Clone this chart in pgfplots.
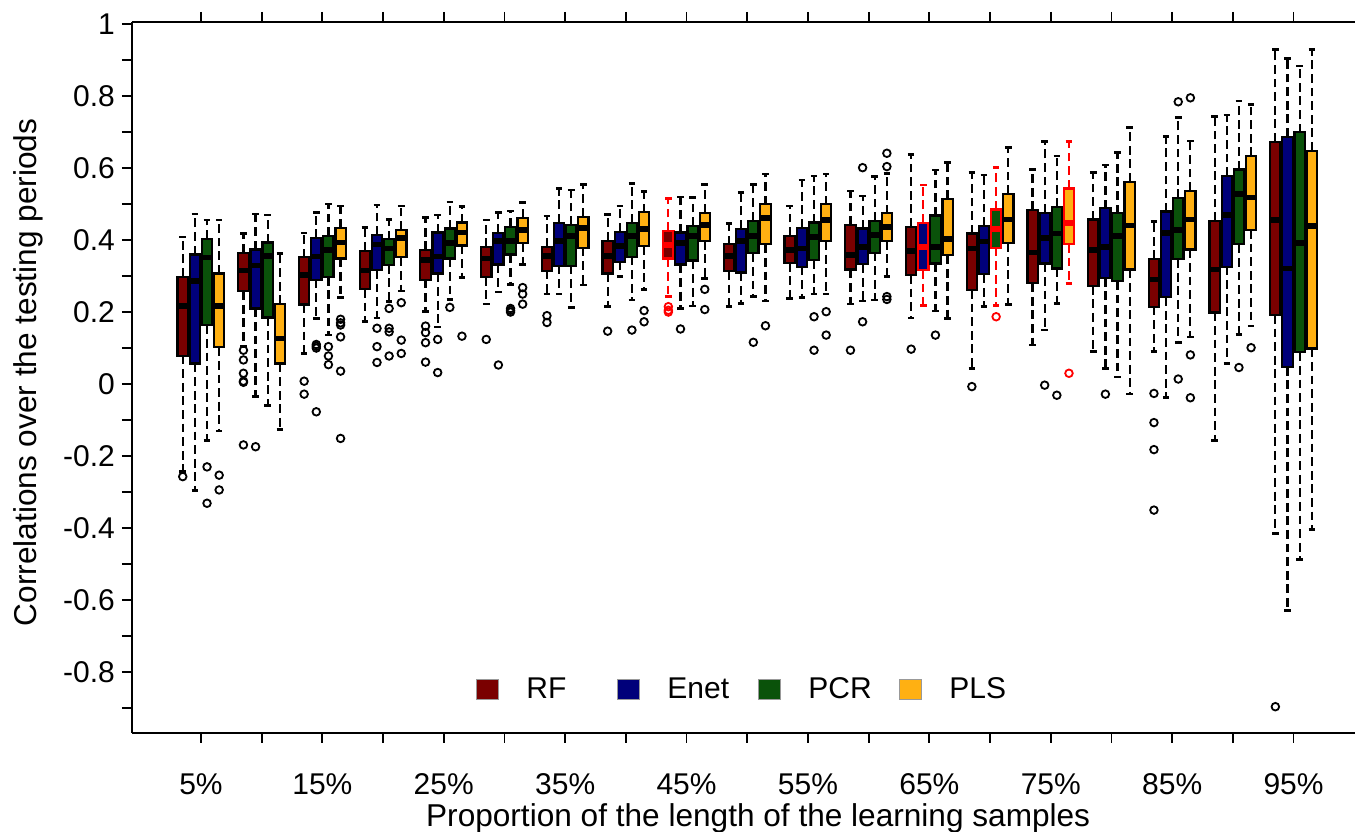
\documentclass[border=0pt]{standalone}
\usepackage{fontspec}
\setmainfont{Liberation Sans}
\usepackage{pgfplots}
\pgfplotsset{compat=1.18}

\definecolor{RFc}{HTML}{7A0000}
\definecolor{ENc}{HTML}{00007A}
\definecolor{PCc}{HTML}{0A520A}
\definecolor{PLc}{HTML}{FFB012}

\pgfplotsset{
  whisk/.style={forget plot, line width=1.1pt, dash pattern=on 4.4pt off 2.4pt},
  cap/.style={forget plot, line width=1.3pt, solid},
}

% fill, line colour, position, lower whisker, lower quartile, median, upper quartile, upper whisker, outliers
\newcommand{\B}[9]{%
  \pgfmathsetmacro\xa{#3-0.425}\pgfmathsetmacro\xb{#3+0.425}%
  \pgfmathsetmacro\ca{#3-0.27}\pgfmathsetmacro\cb{#3+0.27}%
  \addplot[whisk, draw=#2] coordinates {(#3,#5) (#3,#4)};
  \addplot[whisk, draw=#2] coordinates {(#3,#7) (#3,#8)};
  \addplot[cap, draw=#2] coordinates {(\ca,#4) (\cb,#4)};
  \addplot[cap, draw=#2] coordinates {(\ca,#8) (\cb,#8)};
  \addplot[forget plot, draw=#2, fill=#1, line width=1.1pt] coordinates {(\xa,#5) (\xb,#5) (\xb,#7) (\xa,#7)} -- cycle;
  \addplot[forget plot, draw=#2, line width=2.8pt] coordinates {(\xa,#6) (\xb,#6)};
  \ifx\relax#9\relax\else
  \addplot[forget plot, only marks, mark=o, mark size=1.9pt, mark options={solid, draw=#2, line width=0.9pt}] coordinates {#9};
  \fi}

\newcommand{\fs}{\fontsize{15}{17}\selectfont}
\newcommand{\fl}{\fontsize{15.8}{18}\selectfont}

\begin{document}
\begin{tikzpicture}
\begin{axis}[
  name=ax, scale only axis, width=611.5pt, height=355.5pt,
  xmin=-0.68, xmax=100.06, ymin=-0.969, ymax=1.0056,
  axis y line*=left, axis line style={-, line width=0.8pt, black},
  tick align=outside, major tick length=5pt, minor tick length=5pt,
  tick style={black, line width=0.9pt},
  xtick={5,10,...,95}, xtick pos=both, xticklabel pos=lower,
  xticklabels={5\%,,15\%,,25\%,,35\%,,45\%,,55\%,,65\%,,75\%,,85\%,,95\%},
  ytick={-0.8,-0.6,-0.4,-0.2,0,0.2,0.4,0.6,0.8,1},
  yticklabels={-0.8,-0.6,-0.4,-0.2,0,0.2,0.4,0.6,0.8,1},
  minor ytick={-0.9,-0.7,-0.5,-0.3,-0.1,0.1,0.3,0.5,0.7,0.9},
  tick label style={font=\fs},
  xticklabel style={anchor=base, yshift=-26pt},
  label style={font=\fl},
  xlabel={Proportion of the length of the learning samples},
  ylabel={Correlations over the testing periods},
  xlabel style={at={(axis description cs:0.512,0)}, anchor=base, yshift=-47pt},
  ylabel style={at={(axis description cs:-0.085,0.507)}, anchor=center},
  legend columns=4, legend cell align=left,
  legend image code/.code={\draw[#1, draw=black!40, line width=0.5pt] (0pt,-5pt) rectangle (11pt,5pt);},
  legend style={at={(0.2813,0.0605)}, anchor=west, draw=none, fill=none, inner sep=0pt,
    nodes={inner sep=0pt}, font=\fs,
    /tikz/every odd column/.append style={column sep=13.5pt},
    /tikz/every even column/.append style={column sep=15.5pt}},
]
\addlegendimage{fill=RFc}\addlegendentry{\makebox[30pt][l]{RF}}
\addlegendimage{fill=ENc}\addlegendentry{\makebox[30pt][l]{Enet}}
\addlegendimage{fill=PCc}\addlegendentry{\makebox[30pt][l]{PCR}}
\addlegendimage{fill=PLc}\addlegendentry{\makebox[30pt][l]{PLS}}

% 5%
\B{RFc}{black}{3.5}{-0.243}{0.079}{0.217}{0.298}{0.409}{(3.5,-0.257)}
\B{ENc}{black}{4.5}{-0.296}{0.057}{0.287}{0.360}{0.472}{}
\B{PCc}{black}{5.5}{-0.156}{0.163}{0.352}{0.403}{0.456}{(5.5,-0.23) (5.5,-0.331)}
\B{PLc}{black}{6.5}{-0.130}{0.102}{0.217}{0.307}{0.456}{(6.5,-0.253) (6.5,-0.294)}
% 10%
\B{RFc}{black}{8.5}{0.105}{0.258}{0.315}{0.365}{0.419}{(8.5,0.094) (8.5,0.067) (8.5,0.030) (8.5,0.008) (8.5,0.005) (8.5,-0.169)}
\B{ENc}{black}{9.5}{-0.035}{0.210}{0.329}{0.374}{0.472}{(9.5,-0.174)}
\B{PCc}{black}{10.5}{-0.060}{0.185}{0.356}{0.393}{0.469}{}
\B{PLc}{black}{11.5}{-0.126}{0.057}{0.127}{0.222}{0.363}{}
% 15%
\B{RFc}{black}{13.5}{0.085}{0.221}{0.303}{0.352}{0.420}{(13.5,0.008) (13.5,-0.028)}
\B{ENc}{black}{14.5}{0.182}{0.290}{0.354}{0.405}{0.476}{(14.5,0.110) (14.5,0.105) (14.5,0.100) (14.5,-0.077)}
\B{PCc}{black}{15.5}{0.136}{0.298}{0.372}{0.411}{0.500}{(15.5,0.104) (15.5,0.078) (15.5,0.054)}
\B{PLc}{black}{16.5}{0.240}{0.349}{0.393}{0.434}{0.494}{(16.5,0.180) (16.5,0.170) (16.5,0.164) (16.5,0.131) (16.5,0.036) (16.5,-0.151)}
% 20%
\B{RFc}{black}{18.5}{0.173}{0.264}{0.315}{0.370}{0.435}{}
\B{ENc}{black}{19.5}{0.184}{0.317}{0.388}{0.414}{0.497}{(19.5,0.155) (19.5,0.104) (19.5,0.060)}
\B{PCc}{black}{20.5}{0.230}{0.331}{0.377}{0.402}{0.457}{(20.5,0.210) (20.5,0.155) (20.5,0.145) (20.5,0.078)}
\B{PLc}{black}{21.5}{0.258}{0.352}{0.405}{0.428}{0.494}{(21.5,0.226) (21.5,0.122) (21.5,0.085)}
% 25%
\B{RFc}{black}{23.5}{0.201}{0.290}{0.344}{0.372}{0.463}{(23.5,0.161) (23.5,0.143) (23.5,0.115) (23.5,0.061)}
\B{ENc}{black}{24.5}{0.159}{0.307}{0.354}{0.421}{0.469}{(24.5,0.124) (24.5,0.032)}
\B{PCc}{black}{25.5}{0.235}{0.349}{0.391}{0.432}{0.506}{(25.5,0.213)}
\B{PLc}{black}{26.5}{0.296}{0.385}{0.421}{0.449}{0.493}{(26.5,0.133)}
% 30%
\B{RFc}{black}{28.5}{0.222}{0.298}{0.349}{0.380}{0.456}{(28.5,0.124)}
\B{ENc}{black}{29.5}{0.256}{0.332}{0.398}{0.420}{0.476}{(29.5,0.053)}
\B{PCc}{black}{30.5}{0.277}{0.360}{0.398}{0.437}{0.481}{(30.5,0.210) (30.5,0.205) (30.5,0.200)}
\B{PLc}{black}{31.5}{0.332}{0.391}{0.428}{0.462}{0.504}{(31.5,0.268) (31.5,0.250) (31.5,0.222)}
% 35%
\B{RFc}{black}{33.5}{0.250}{0.315}{0.356}{0.381}{0.467}{(33.5,0.190) (33.5,0.171)}
\B{ENc}{black}{34.5}{0.250}{0.329}{0.398}{0.448}{0.543}{}
\B{PCc}{black}{35.5}{0.213}{0.329}{0.411}{0.442}{0.539}{}
\B{PLc}{black}{36.5}{0.275}{0.379}{0.434}{0.465}{0.554}{}
% 40%
\B{RFc}{black}{38.5}{0.215}{0.307}{0.356}{0.398}{0.471}{(38.5,0.147)}
\B{ENc}{black}{39.5}{0.298}{0.340}{0.384}{0.423}{0.494}{}
\B{PCc}{black}{40.5}{0.233}{0.354}{0.412}{0.448}{0.557}{(40.5,0.150)}
\B{PLc}{black}{41.5}{0.263}{0.383}{0.431}{0.477}{0.534}{(41.5,0.204) (41.5,0.173)}
% 45%
\B{RFc}{red}{43.5}{0.243}{0.349}{0.386}{0.425}{0.515}{(43.5,0.215) (43.5,0.205) (43.5,0.200)}
\B{ENc}{black}{44.5}{0.210}{0.332}{0.391}{0.421}{0.520}{(44.5,0.153)}
\B{PCc}{black}{45.5}{0.217}{0.343}{0.411}{0.439}{0.518}{}
\B{PLc}{black}{46.5}{0.293}{0.398}{0.442}{0.476}{0.554}{(46.5,0.263) (46.5,0.207)}
% 50%
\B{RFc}{black}{48.5}{0.215}{0.314}{0.356}{0.388}{0.446}{}
\B{ENc}{black}{49.5}{0.224}{0.310}{0.398}{0.431}{0.532}{}
\B{PCc}{black}{50.5}{0.244}{0.363}{0.411}{0.454}{0.554}{(50.5,0.116)}
\B{PLc}{black}{51.5}{0.231}{0.388}{0.462}{0.499}{0.583}{(51.5,0.162)}
% 55%
\B{RFc}{black}{53.5}{0.238}{0.337}{0.372}{0.411}{0.494}{}
\B{ENc}{black}{54.5}{0.241}{0.326}{0.377}{0.434}{0.567}{}
\B{PCc}{black}{55.5}{0.250}{0.344}{0.409}{0.449}{0.578}{(55.5,0.187) (55.5,0.094)}
\B{PLc}{black}{56.5}{0.250}{0.397}{0.456}{0.499}{0.583}{(56.5,0.201) (56.5,0.136)}
% 60%
\B{RFc}{black}{58.5}{0.222}{0.318}{0.358}{0.442}{0.536}{(58.5,0.094)}
\B{ENc}{black}{59.5}{0.231}{0.333}{0.381}{0.432}{0.522}{(59.5,0.601) (59.5,0.173)}
\B{PCc}{black}{60.5}{0.233}{0.365}{0.414}{0.453}{0.576}{}
\B{PLc}{black}{61.5}{0.298}{0.398}{0.437}{0.474}{0.585}{(61.5,0.641) (61.5,0.604) (61.5,0.243) (61.5,0.235)}
% 65%
\B{RFc}{black}{63.5}{0.184}{0.303}{0.369}{0.437}{0.638}{(63.5,0.097)}
\B{ENc}{red}{64.5}{0.218}{0.317}{0.380}{0.448}{0.553}{}
\B{PCc}{black}{65.5}{0.203}{0.335}{0.381}{0.468}{0.594}{(65.5,0.136)}
\B{PLc}{black}{66.5}{0.182}{0.358}{0.403}{0.514}{0.615}{}
% 70%
\B{RFc}{black}{68.5}{0.044}{0.261}{0.377}{0.418}{0.588}{(68.5,-0.007)}
\B{ENc}{black}{69.5}{0.215}{0.305}{0.396}{0.439}{0.581}{}
\B{PCc}{red}{70.5}{0.218}{0.379}{0.430}{0.485}{0.601}{(70.5,0.187)}
\B{PLc}{black}{71.5}{0.221}{0.391}{0.457}{0.528}{0.657}{}
% 75%
\B{RFc}{black}{73.5}{0.108}{0.280}{0.365}{0.483}{0.596}{}
\B{ENc}{black}{74.5}{0.150}{0.335}{0.405}{0.476}{0.673}{(74.5,-0.003)}
\B{PCc}{black}{75.5}{0.224}{0.321}{0.418}{0.491}{0.633}{(75.5,-0.031)}
\B{PLc}{red}{76.5}{0.280}{0.389}{0.448}{0.543}{0.673}{(76.5,0.030)}
% 80%
\B{RFc}{black}{78.5}{0.090}{0.273}{0.372}{0.457}{0.588}{}
\B{ENc}{black}{79.5}{0.044}{0.295}{0.381}{0.488}{0.608}{(79.5,-0.028)}
\B{PCc}{black}{80.5}{0.020}{0.286}{0.411}{0.474}{0.643}{}
\B{PLc}{black}{81.5}{-0.028}{0.318}{0.440}{0.562}{0.713}{}
% 85%
\B{RFc}{black}{83.5}{0.090}{0.215}{0.290}{0.347}{0.451}{(83.5,-0.026) (83.5,-0.107) (83.5,-0.182) (83.5,-0.350)}
\B{ENc}{black}{84.5}{-0.038}{0.241}{0.420}{0.479}{0.687}{}
\B{PCc}{black}{85.5}{0.115}{0.347}{0.428}{0.516}{0.740}{(85.5,0.784) (85.5,0.014)}
\B{PLc}{black}{86.5}{0.131}{0.374}{0.457}{0.536}{0.675}{(86.5,0.795) (86.5,0.081) (86.5,-0.038)}
% 90%
\B{RFc}{black}{88.5}{-0.156}{0.199}{0.318}{0.453}{0.743}{}
\B{ENc}{black}{89.5}{0.057}{0.326}{0.469}{0.578}{0.747}{}
\B{PCc}{black}{90.5}{0.138}{0.388}{0.528}{0.596}{0.786}{(90.5,0.046)}
\B{PLc}{black}{91.5}{0.161}{0.428}{0.518}{0.633}{0.777}{(91.5,0.101)}
% 95%
\B{RFc}{black}{93.5}{-0.415}{0.192}{0.456}{0.673}{0.930}{(93.5,-0.896)}
\B{ENc}{black}{94.5}{-0.628}{0.048}{0.321}{0.687}{0.904}{}
\B{PCc}{black}{95.5}{-0.487}{0.088}{0.391}{0.699}{0.883}{}
\B{PLc}{black}{96.5}{-0.404}{0.099}{0.439}{0.648}{0.930}{}
\end{axis}
\pgfresetboundingbox
\path ([xshift=-66pt,yshift=-49.5pt]ax.south west) rectangle ([yshift=11pt]ax.north east);
\end{tikzpicture}
\end{document}
